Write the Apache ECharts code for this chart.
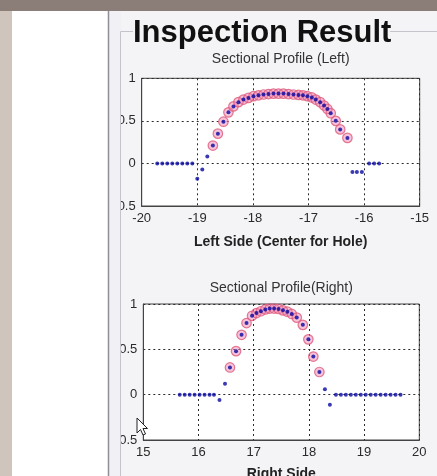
<!DOCTYPE html>
<html>
<head>
<meta charset="utf-8">
<script src="https://cdn.jsdelivr.net/npm/echarts@6/dist/echarts.min.js"></script>
<style>
html,body{margin:0;padding:0;background:#f4f4f7;}
#c{width:437px;height:476px;}
</style>
</head>
<body>
<div id="c"></div>
<script>
// ---- data ----
var mainTitle = 'Inspection Result';
var leftTitle = 'Sectional Profile (Left)';
var rightTitle = 'Sectional Profile(Right)';
var leftAxisName = 'Left Side (Center for Hole)';
var rightAxisName = 'Right Side';

var leftXTicks = [-20, -15, 1];
var rightXTicks = [15, 20, 1];
var yTicks = [-0.5, 1, 0.5];

var leftX = [-19.72,-19.63,-19.54,-19.45,-19.36,-19.27,-19.18,-19.09,-19.0,-18.91,-18.82,
  -18.72,-18.63,-18.53,-18.44,-18.35,-18.26,-18.17,-18.08,-17.99,-17.90,-17.81,-17.72,-17.63,-17.54,
  -17.45,-17.36,-17.27,-17.18,-17.10,-17.02,-16.94,-16.87,-16.79,-16.72,-16.66,-16.60,-16.51,-16.43,-16.30,
  -16.21,-16.13,-16.04,-15.91,-15.82,-15.73];
var leftY = [0,0,0,0,0,0,0,0,-0.18,-0.07,0.08,
  0.21,0.35,0.49,0.60,0.67,0.72,0.75,0.77,0.79,0.80,0.81,0.815,0.82,0.82,
  0.82,0.815,0.81,0.805,0.80,0.79,0.775,0.75,0.72,0.68,0.64,0.59,0.50,0.40,0.30,
  -0.1,-0.1,-0.1,0,0,0];
var leftMarked = [11, 39];   // first and last index of circled points

var rightX = [15.66,15.75,15.84,15.93,16.02,16.11,16.20,16.28,16.38,16.48,
  16.57,16.68,16.78,16.87,16.97,17.05,17.13,17.21,17.29,17.37,17.45,17.53,17.61,17.69,17.78,17.89,17.99,18.08,18.19,
  18.29,18.38,
  18.49,18.58,18.67,18.76,18.85,18.94,19.03,19.12,19.21,19.30,19.39,19.48,19.57,19.66];
var rightY = [0,0,0,0,0,0,0,0,-0.06,0.12,
  0.30,0.48,0.66,0.79,0.87,0.90,0.92,0.94,0.95,0.95,0.945,0.93,0.915,0.89,0.85,0.77,0.61,0.42,0.25,
  0.06,-0.11,
  0,0,0,0,0,0,0,0,0,0,0,0,0,0];
var rightMarked = [10, 28];

// ---- build ----
function pairs(xs, ys, range) {
  var out = [];
  for (var i = 0; i < xs.length; i++) {
    if (!range || (i >= range[0] && i <= range[1])) out.push([xs[i], ys[i]]);
  }
  return out;
}
var FONT = '"Liberation Sans", Arial, sans-serif';
var grids = [
  {left: 141.7, top: 78.3, width: 278, height: 127.7},
  {left: 143.3, top: 304, width: 276, height: 136}
];
function xAx(i, t) {
  return {
    gridIndex: i, type: 'value', min: t[0], max: t[1], interval: t[2],
    axisLine: {show: true, onZero: false, lineStyle: {color: '#444', width: 1}},
    axisTick: {show: false},
    axisLabel: {color: '#2a2a2a', fontSize: 13, fontFamily: FONT, margin: 6},
    splitLine: {show: true, lineStyle: {type: [2, 3], color: '#2a2a2a', width: 1}}
  };
}
function yAx(i) {
  return {
    gridIndex: i, type: 'value', min: yTicks[0], max: yTicks[1], interval: yTicks[2],
    axisLine: {show: true, lineStyle: {color: '#444', width: 1}},
    axisTick: {show: false},
    axisLabel: {color: '#2a2a2a', fontSize: 13, fontFamily: FONT, margin: 6},
    splitLine: {show: true, lineStyle: {type: [2, 3], color: '#2a2a2a', width: 1}}
  };
}
var circleStyle = {color: 'rgba(236,130,175,0.6)', borderColor: '#dd5a7c', borderWidth: 1.2};
var dotStyle = {color: '#0808a0'};

var chart = echarts.init(document.getElementById('c'), null, {renderer: 'canvas'});
chart.setOption({
  backgroundColor: '#f4f4f7',
  animation: false,
  grid: grids.map(function (g) {
    return Object.assign({show: true, backgroundColor: '#ffffff', borderColor: '#444', borderWidth: 1, containLabel: false}, g);
  }),
  xAxis: [xAx(0, leftXTicks), xAx(1, rightXTicks)],
  yAxis: [yAx(0), yAx(1)],
  series: [
    {type: 'scatter', xAxisIndex: 0, yAxisIndex: 0, data: pairs(leftX, leftY, leftMarked), symbolSize: 9.5, itemStyle: circleStyle, z: 3},
    {type: 'scatter', xAxisIndex: 0, yAxisIndex: 0, data: pairs(leftX, leftY), symbolSize: 4, itemStyle: dotStyle, z: 4},
    {type: 'scatter', xAxisIndex: 1, yAxisIndex: 1, data: pairs(rightX, rightY, rightMarked), symbolSize: 9.5, itemStyle: circleStyle, z: 3},
    {type: 'scatter', xAxisIndex: 1, yAxisIndex: 1, data: pairs(rightX, rightY), symbolSize: 4, itemStyle: dotStyle, z: 4}
  ],
  graphic: [
    // window chrome
    {type: 'rect', shape: {x: 0, y: 0, width: 437, height: 11}, style: {fill: '#8b7e78'}, z: 100},
    {type: 'rect', shape: {x: 0, y: 11, width: 12, height: 465}, style: {fill: '#cfc5bc'}, z: 100},
    {type: 'rect', shape: {x: 12, y: 11, width: 96, height: 465}, style: {fill: '#ffffff'}, z: 100},
    {type: 'rect', shape: {x: 108, y: 11, width: 13, height: 465}, style: {fill: '#f1f1f5'}, z: 100},
    {type: 'line', shape: {x1: 108.5, y1: 11, x2: 108.5, y2: 476}, style: {stroke: '#8e8e96', lineWidth: 1.5}, z: 101},
    // group box border
    {type: 'polyline', shape: {points: [[120.5, 476], [120.5, 31.5], [133, 31.5]]}, style: {stroke: '#c4c4cc', lineWidth: 1, fill: null}, z: 101},
    {type: 'line', shape: {x1: 390, y1: 31.5, x2: 437, y2: 31.5}, style: {stroke: '#c4c4cc', lineWidth: 1}, z: 101},
    {type: 'text', x: 133, y: 33, style: {text: mainTitle, fill: '#111', font: 'bold 31px ' + FONT, textAlign: 'left', textVerticalAlign: 'middle'}, z: 101},
    {type: 'text', x: 280.7, y: 59.5, style: {text: leftTitle, fill: '#333', font: '14px ' + FONT, textAlign: 'center', textVerticalAlign: 'middle'}, z: 101},
    {type: 'text', x: 280.7, y: 242, style: {text: leftAxisName, fill: '#222', font: 'bold 14px ' + FONT, textAlign: 'center', textVerticalAlign: 'middle'}, z: 101},
    {type: 'text', x: 281.3, y: 288, style: {text: rightTitle, fill: '#333', font: '14px ' + FONT, textAlign: 'center', textVerticalAlign: 'middle'}, z: 101},
    {type: 'text', x: 281.3, y: 474, style: {text: rightAxisName, fill: '#222', font: 'bold 14px ' + FONT, textAlign: 'center', textVerticalAlign: 'middle'}, z: 101},
    // mouse cursor
    {type: 'polygon', shape: {points: [[137, 418], [137, 433], [140.5, 429.5], [143, 435], [145.5, 434], [143, 428.5], [147.5, 428.5]]}, style: {fill: '#ffffff', stroke: '#222', lineWidth: 1}, z: 102}
  ]
});
</script>
</body>
</html>
